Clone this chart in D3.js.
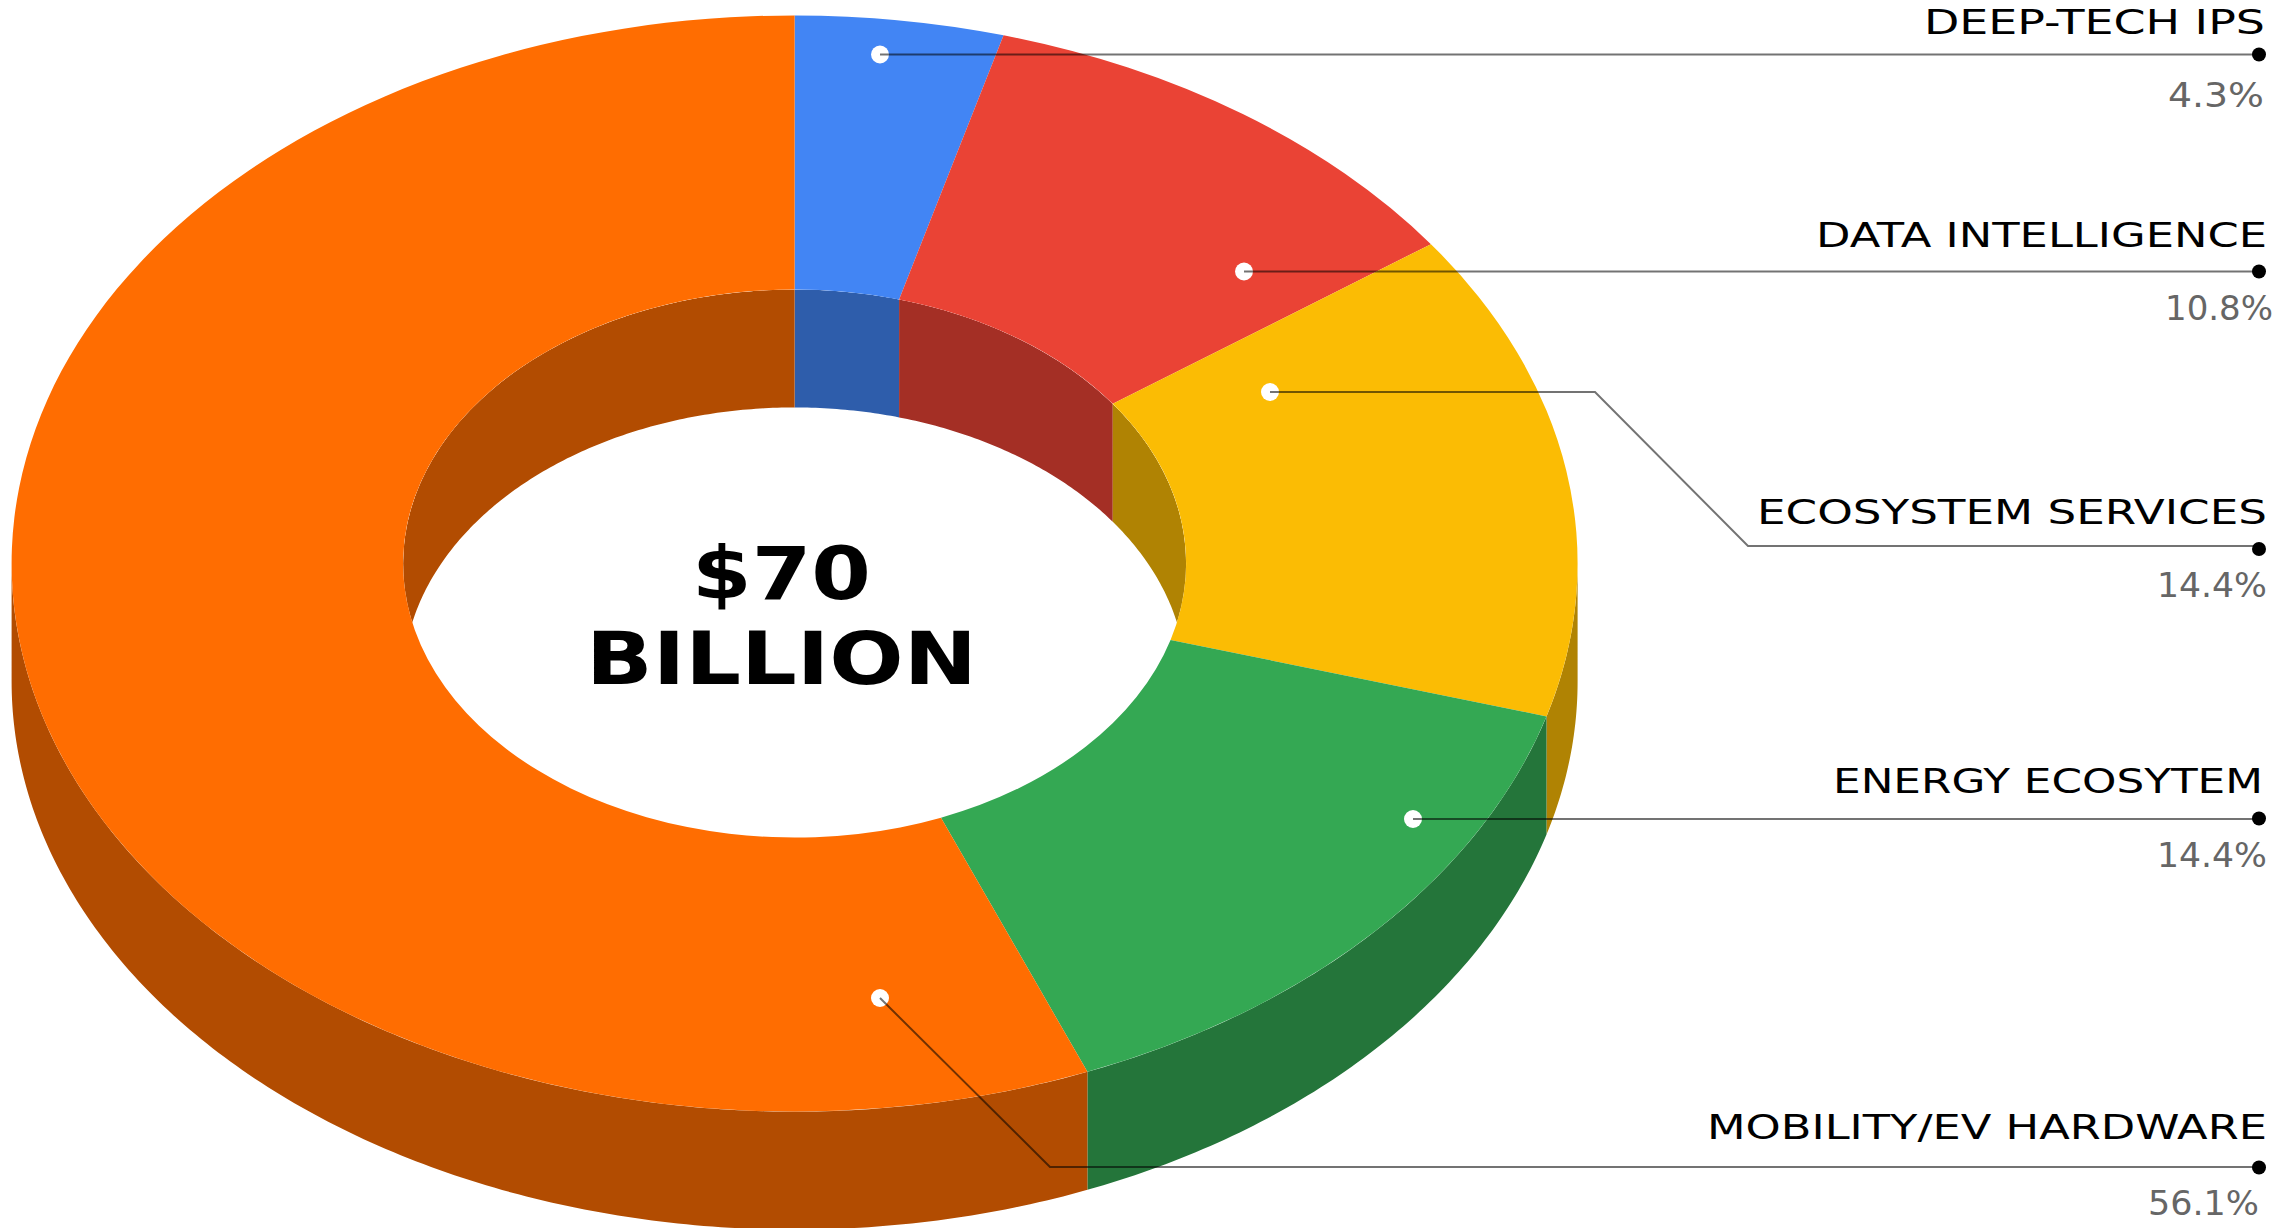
<!DOCTYPE html>
<html>
<head>
<meta charset="utf-8">
<script src="https://cdn.jsdelivr.net/npm/d3@7"></script>
<style>
  html, body { margin: 0; padding: 0; background: #fff; }
  svg { display: block; }
  text { font-family: "DejaVu Sans", sans-serif; }
</style>
</head>
<body>
<svg id="chart" width="2284" height="1228"></svg>
<script>
// Funding split across five segments, clockwise from twelve o'clock.
const categories = ["DEEP-TECH IPS", "DATA INTELLIGENCE", "ECOSYSTEM SERVICES", "ENERGY ECOSYTEM", "MOBILITY/EV HARDWARE"];
const shares = [4.3, 10.8, 14.4, 14.4, 56.1];
const topColors = ["#4285F4", "#EA4335", "#FBBC04", "#34A853", "#FF6D01"];
const wallColors = ["#2E5DAB", "#A42F25", "#B08303", "#24753A", "#B24C01"];
const centerLines = ["$70", "BILLION"];

// Ring geometry: an extruded donut tilted away from the viewer.
const ring = { cx: 794.6, cy: 563.5, outer: 783, inner: 391.5, tilt: 0.7, depth: 118 };

// Callout layout: leader path, end dot and label boxes for each segment.
const callouts = [
  { path: [[880, 54.5], [2259, 54.5]], dot: [2259, 54.5],
    label: { x: 1924, w: 341, base: 33.5 }, pct: { x: 2168, w: 96, base: 106.7 } },
  { path: [[1244, 271.5], [2259, 271.5]], dot: [2259, 271.5],
    label: { x: 1816, w: 451, base: 246.7 }, pct: { x: 2165, w: 108, base: 320 } },
  { path: [[1270, 392], [1595, 392], [1748, 546], [2259, 546]], dot: [2259, 549],
    label: { x: 1757, w: 510, base: 524 }, pct: { x: 2157, w: 110, base: 597 } },
  { path: [[1413, 819], [2259, 819]], dot: [2259, 818.5],
    label: { x: 1833, w: 430, base: 793 }, pct: { x: 2157, w: 110, base: 867 } },
  { path: [[880, 998], [1050, 1167], [2259, 1167]], dot: [2259, 1167.5],
    label: { x: 1707, w: 560, base: 1139 }, pct: { x: 2148, w: 111, base: 1215 } }
];
const centerText = [
  { x: 692, w: 179, base: 599 },
  { x: 586, w: 391, base: 684 }
];

const svg = d3.select("#chart");

const slices = d3.pie().sort(null).value(d => d)(shares);

// Screen position of a point on the ring at a given angle and radius.
const px = (a, r) => ring.cx + r * Math.sin(a);
const py = (a, r) => ring.cy - r * ring.tilt * Math.cos(a);

// Vertical wall below an arc of the ring, built as a closed area band.
function wallPath(a0, a1, r) {
  const n = Math.max(2, Math.ceil((a1 - a0) * 90));
  const angles = d3.range(n + 1).map(i => a0 + (a1 - a0) * i / n);
  return d3.area()
    .x(a => px(a, r))
    .y0(a => py(a, r))
    .y1(a => py(a, r) + ring.depth)(angles);
}

// Part of an angular span that overlaps a visible range, or null.
function overlap(a0, a1, lo, hi) {
  const s = Math.max(a0, lo), e = Math.min(a1, hi);
  return e > s ? [s, e] : null;
}

const TAU = 2 * Math.PI;

svg.append("defs").append("clipPath").attr("id", "hole")
  .append("ellipse")
  .attr("cx", ring.cx).attr("cy", ring.cy)
  .attr("rx", ring.inner).attr("ry", ring.inner * ring.tilt);

// Outer walls face the viewer along the lower half of the ellipse.
const outerWalls = svg.append("g");
slices.forEach((s, i) => {
  const span = overlap(s.startAngle, s.endAngle, TAU / 4, 3 * TAU / 4);
  if (span) outerWalls.append("path")
    .attr("d", wallPath(span[0], span[1], ring.outer))
    .attr("fill", wallColors[i]);
});

// Inner walls show along the far half of the hole, cut by its rim.
const innerWalls = svg.append("g").attr("clip-path", "url(#hole)");
slices.forEach((s, i) => {
  [[0, TAU / 4], [3 * TAU / 4, TAU]].forEach(([lo, hi]) => {
    const span = overlap(s.startAngle, s.endAngle, lo, hi);
    if (span) innerWalls.append("path")
      .attr("d", wallPath(span[0], span[1], ring.inner))
      .attr("fill", wallColors[i]);
  });
});

// Top face of the ring.
const arc = d3.arc().innerRadius(ring.inner).outerRadius(ring.outer);
svg.append("g")
  .attr("transform", `translate(${ring.cx},${ring.cy}) scale(1,${ring.tilt})`)
  .selectAll("path")
  .data(slices)
  .join("path")
  .attr("d", arc)
  .attr("fill", (d, i) => topColors[i]);

// Callouts: white anchor, translucent leader, black end dot, two labels.
const line = d3.line();
const callout = svg.append("g").selectAll("g").data(callouts).join("g");
callout.append("circle")
  .attr("cx", d => d.path[0][0]).attr("cy", d => d.path[0][1])
  .attr("r", 9).attr("fill", "#fff");
callout.append("path")
  .attr("d", d => line(d.path))
  .attr("fill", "none").attr("stroke", "#000")
  .attr("stroke-opacity", 0.55).attr("stroke-width", 2);
callout.append("circle")
  .attr("cx", d => d.dot[0]).attr("cy", d => d.dot[1])
  .attr("r", 7).attr("fill", "#000");
callout.append("text")
  .attr("x", d => d.label.x).attr("y", d => d.label.base)
  .attr("textLength", d => d.label.w).attr("lengthAdjust", "spacingAndGlyphs")
  .attr("font-size", 33.6).attr("fill", "#000")
  .text((d, i) => categories[i]);
callout.append("text")
  .attr("x", d => d.pct.x).attr("y", d => d.pct.base)
  .attr("textLength", d => d.pct.w).attr("lengthAdjust", "spacingAndGlyphs")
  .attr("font-size", 33.6).attr("fill", "#666")
  .text((d, i) => shares[i].toFixed(1) + "%");

// Total in the middle of the hole.
svg.append("g").selectAll("text").data(centerLines).join("text")
  .attr("x", (d, i) => centerText[i].x).attr("y", (d, i) => centerText[i].base)
  .attr("textLength", (d, i) => centerText[i].w).attr("lengthAdjust", "spacingAndGlyphs")
  .attr("font-size", 72.7).attr("font-weight", 700).attr("fill", "#000")
  .text(d => d);
</script>
</body>
</html>
